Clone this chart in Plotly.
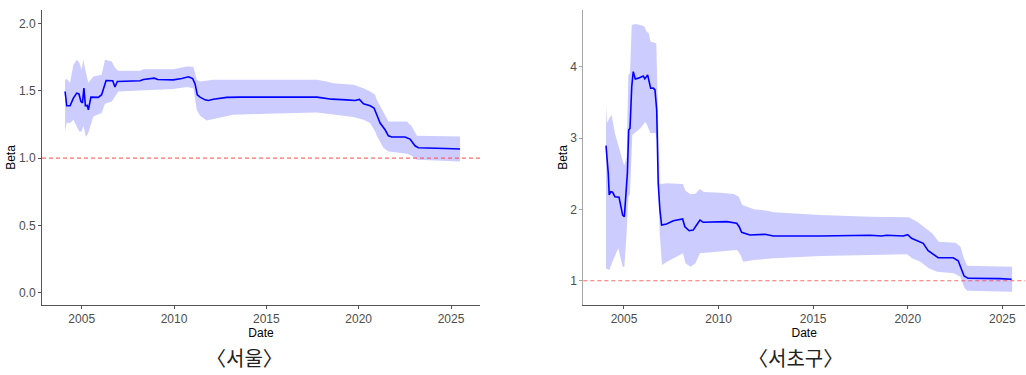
import plotly.graph_objects as go

# ---------------- 서울 ----------------
seoul_line_x = [2004.10, 2004.19, 2004.37, 2004.55, 2004.73, 2004.85, 2004.96, 2005.04, 2005.12, 2005.20,
                2005.30, 2005.36, 2005.50, 2005.71, 2005.90, 2006.08, 2006.21, 2006.32, 2006.68, 2006.80,
                2006.93, 2008.16, 2008.34, 2008.93, 2009.12, 2009.96, 2010.42, 2010.78, 2011.01, 2011.14,
                2011.26, 2011.41, 2011.68, 2011.86, 2012.13, 2012.86, 2013.58, 2015.03, 2015.93, 2017.74,
                2018.18, 2018.54, 2019.35, 2019.80, 2020.04, 2020.26, 2020.62, 2020.83, 2020.98, 2021.16,
                2021.43, 2021.61, 2021.79, 2022.51, 2022.78, 2023.05, 2023.23, 2024.00, 2024.70, 2025.49]
seoul_beta = [1.494, 1.388, 1.388, 1.445, 1.482, 1.476, 1.420, 1.410, 1.520, 1.388,
              1.390, 1.358, 1.452, 1.450, 1.450, 1.470, 1.530, 1.576, 1.574, 1.527,
              1.568, 1.574, 1.583, 1.593, 1.583, 1.580, 1.590, 1.603, 1.590, 1.550,
              1.470, 1.452, 1.432, 1.427, 1.437, 1.450, 1.452, 1.450, 1.452, 1.452,
              1.445, 1.437, 1.432, 1.427, 1.435, 1.403, 1.388, 1.371, 1.321, 1.260,
              1.210, 1.165, 1.156, 1.156, 1.141, 1.091, 1.076, 1.076, 1.071, 1.067]

seoul_band_x = [2004.10, 2004.19, 2004.37, 2004.55, 2004.73, 2004.87, 2005.00, 2005.09, 2005.23, 2005.36,
                2005.63, 2006.08, 2006.26, 2006.63, 2006.80, 2006.98, 2008.16, 2008.34, 2009.96, 2010.69,
                2011.05, 2011.23, 2011.41, 2011.77, 2012.13, 2013.21, 2015.02, 2017.73, 2018.27, 2018.63,
                2019.71, 2020.26, 2020.62, 2020.89, 2020.98, 2021.34, 2021.61, 2022.61, 2022.88, 2023.15,
                2025.49]
seoul_upper = [1.581, 1.586, 1.559, 1.692, 1.729, 1.707, 1.655, 1.729, 1.633, 1.559,
               1.605, 1.618, 1.729, 1.717, 1.670, 1.648, 1.648, 1.660, 1.660, 1.680,
               1.677, 1.581, 1.568, 1.573, 1.581, 1.581, 1.581, 1.581, 1.568, 1.556,
               1.544, 1.519, 1.494, 1.470, 1.432, 1.336, 1.272, 1.272, 1.234, 1.165,
               1.160]
seoul_lower = [1.197, 1.262, 1.260, 1.284, 1.234, 1.197, 1.197, 1.240, 1.156, 1.188,
               1.309, 1.334, 1.403, 1.420, 1.457, 1.494, 1.499, 1.503, 1.512, 1.527,
               1.519, 1.358, 1.314, 1.279, 1.289, 1.321, 1.329, 1.338, 1.329, 1.321,
               1.304, 1.284, 1.260, 1.197, 1.165, 1.076, 1.049, 1.032, 1.017, 0.987,
               0.975]

# ---------------- 서초구 ----------------
seocho_line_x = [2004.05, 2004.17, 2004.22, 2004.30, 2004.40, 2004.52, 2004.74, 2004.84, 2004.93, 2005.02,
                 2005.11, 2005.18, 2005.25, 2005.32, 2005.41, 2005.49, 2005.60, 2005.76, 2006.02, 2006.10,
                 2006.25, 2006.41, 2006.55, 2006.64, 2006.73, 2006.81, 2006.90, 2006.99, 2007.25, 2007.61,
                 2008.10, 2008.22, 2008.45, 2008.66, 2008.84, 2009.02, 2009.19, 2010.08, 2010.43, 2010.96,
                 2011.09, 2011.22, 2011.66, 2012.45, 2012.89, 2015.36, 2018.00, 2018.62, 2018.88, 2019.76,
                 2020.00, 2020.20, 2020.55, 2020.82, 2021.08, 2021.35, 2021.61, 2022.40, 2022.67, 2022.84,
                 2022.98, 2023.19, 2024.16, 2024.87, 2025.49]
seocho_beta = [2.893, 2.506, 2.202, 2.248, 2.240, 2.178, 2.170, 2.038, 1.921, 1.898,
               2.318, 2.506, 3.114, 3.137, 3.720, 3.931, 3.829, 3.840, 3.871, 3.830,
               3.885, 3.698, 3.700, 3.675, 3.394, 2.366, 1.992, 1.781, 1.795, 1.842,
               1.865, 1.757, 1.701, 1.710, 1.781, 1.851, 1.819, 1.820, 1.828, 1.805,
               1.757, 1.679, 1.641, 1.651, 1.627, 1.627, 1.637, 1.627, 1.637, 1.627,
               1.645, 1.595, 1.561, 1.525, 1.421, 1.370, 1.323, 1.323, 1.281, 1.160,
               1.066, 1.034, 1.034, 1.030, 1.020]

seocho_up_x = [2004.05, 2004.10, 2004.22, 2004.35, 2004.52, 2004.70, 2004.79, 2004.88, 2004.97, 2005.02,
               2005.14, 2005.23, 2005.32, 2005.41, 2005.60, 2005.87, 2006.08, 2006.19, 2006.31, 2006.40,
               2006.57, 2006.71, 2006.78, 2006.89, 2006.96, 2007.27, 2008.12, 2008.25, 2008.52, 2008.78,
               2009.01, 2009.22, 2010.10, 2010.81, 2011.07, 2011.25, 2011.87, 2012.57, 2012.93, 2015.39,
               2018.03, 2020.06, 2020.50, 2020.85, 2021.29, 2021.64, 2022.53, 2022.79, 2022.97, 2023.14,
               2025.52]
seocho_upper = [3.464, 3.207, 3.278, 3.324, 3.067, 2.903, 2.787, 2.739, 2.647, 2.623,
                2.739, 3.885, 3.909, 4.586, 4.600, 4.586, 4.562, 4.492, 4.470, 4.352,
                4.338, 4.330, 3.534, 2.366, 2.356, 2.366, 2.356, 2.262, 2.212, 2.220,
                2.286, 2.244, 2.234, 2.216, 2.178, 2.062, 2.001, 1.982, 1.959, 1.921,
                1.898, 1.889, 1.828, 1.757, 1.665, 1.547, 1.533, 1.477, 1.314, 1.210,
                1.196]

seocho_lo_x = [2004.05, 2004.22, 2004.43, 2004.70, 2004.79, 2004.93, 2005.02, 2005.14, 2005.23, 2005.32,
               2005.44, 2005.60, 2005.87, 2006.13, 2006.22, 2006.40, 2006.66, 2006.75, 2006.89, 2007.01,
               2007.27, 2008.12, 2008.25, 2008.52, 2008.78, 2009.01, 2010.10, 2010.98, 2011.16, 2011.30,
               2011.87, 2012.93, 2015.39, 2018.03, 2019.97, 2020.23, 2020.67, 2021.11, 2021.55, 2022.43,
               2022.79, 2022.97, 2023.14, 2025.52]
seocho_lower = [1.170, 1.150, 1.290, 1.454, 1.360, 1.196, 1.196, 1.665, 2.178, 2.220,
                3.043, 3.076, 3.137, 3.230, 3.184, 3.067, 3.070, 2.973, 1.665, 1.220,
                1.266, 1.384, 1.244, 1.196, 1.244, 1.384, 1.407, 1.430, 1.360, 1.266,
                1.290, 1.314, 1.346, 1.360, 1.370, 1.314, 1.266, 1.174, 1.126, 1.104,
                1.056, 0.916, 0.860, 0.846]

x_ticks = [2005, 2010, 2015, 2020, 2025]
seoul_y_ticks = [0.0, 0.5, 1.0, 1.5, 2.0]
seoul_y_labels = ["0.0", "0.5", "1.0", "1.5", "2.0"]
seocho_y_ticks = [1, 2, 3, 4]
captions = ["〈서울〉", "〈서초구〉"]

BAND = "rgba(0,0,255,0.2)"
LINE = "#0000ff"
FONT = "Liberation Sans, Arial, sans-serif"

fig = go.Figure()


def add_panel(fig, xa, ya, lx, ly, ux, uy, bx, by):
    # band as closed polygon: upper forward, lower reversed
    poly_x = list(ux) + list(bx)[::-1]
    poly_y = list(uy) + list(by)[::-1]
    fig.add_trace(go.Scatter(x=poly_x, y=poly_y, fill="toself", fillcolor=BAND,
                             line=dict(width=0), mode="lines", hoverinfo="skip",
                             showlegend=False, xaxis=xa, yaxis=ya))
    fig.add_trace(go.Scatter(x=lx, y=ly, mode="lines", line=dict(color=LINE, width=1.6),
                             showlegend=False, xaxis=xa, yaxis=ya))


add_panel(fig, "x", "y", seoul_line_x, seoul_beta, seoul_band_x, seoul_upper, seoul_band_x, seoul_lower)
add_panel(fig, "x2", "y2", seocho_line_x, seocho_beta, seocho_up_x, seocho_upper, seocho_lo_x, seocho_lower)

W, H = 1026, 375
ax_common = dict(showline=True, linewidth=1, ticks="outside", ticklen=3, tickwidth=1,
                 showgrid=False, zeroline=False,
                 tickfont=dict(family=FONT, size=12, color="#4d4d4d"),
                 title_font=dict(family=FONT, size=12, color="#000000"))

ydom = [1 - 305 / H, 1 - 10 / H]
fig.update_layout(
    width=W, height=H,
    margin=dict(l=0, r=0, t=0, b=0),
    paper_bgcolor="white", plot_bgcolor="white",
    xaxis=dict(domain=[42 / W, 480 / W], range=[2002.85, 2026.57], tickvals=x_ticks,
               linecolor="#555555", tickcolor="#555555",
               title=dict(text="Date", standoff=2), anchor="y", **ax_common),
    yaxis=dict(domain=ydom, range=[-0.091, 2.099], tickvals=seoul_y_ticks, ticktext=seoul_y_labels,
               linecolor="#555555", tickcolor="#555555",
               title=dict(text="Beta", standoff=0), anchor="x", **ax_common),
    xaxis2=dict(domain=[583.3 / W, 1025 / W], range=[2002.85, 2026.2], tickvals=x_ticks,
                linecolor="#555555", tickcolor="#555555",
                title=dict(text="Date", standoff=2), anchor="y2", **ax_common),
    yaxis2=dict(domain=ydom, range=[0.66, 4.795], tickvals=seocho_y_ticks,
                linecolor="#a6a6a6", tickcolor="#a6a6a6",
                title=dict(text="Beta", standoff=0), anchor="x2", **ax_common),
)

for xr, yr in [("x", "y"), ("x2", "y2")]:
    fig.add_shape(type="line", xref=xr + " domain", yref=yr, x0=0, x1=1, y0=1, y1=1,
                  line=dict(color="rgba(255,60,60,0.75)", width=1.2, dash="4px,3px"))

for cx, text in zip([244 / W, 795 / W], captions):
    fig.add_annotation(x=cx, y=1 - 373 / H, xref="paper", yref="paper", text=text,
                       showarrow=False, xanchor="center", yanchor="bottom", borderpad=0,
                       font=dict(family="Noto Sans CJK KR", size=20, color="#222222"))

fig.write_html("out.html", config={"displayModeBar": False},
               post_script="document.body.style.margin='0';document.body.style.padding='0';document.body.style.overflow='hidden';")
